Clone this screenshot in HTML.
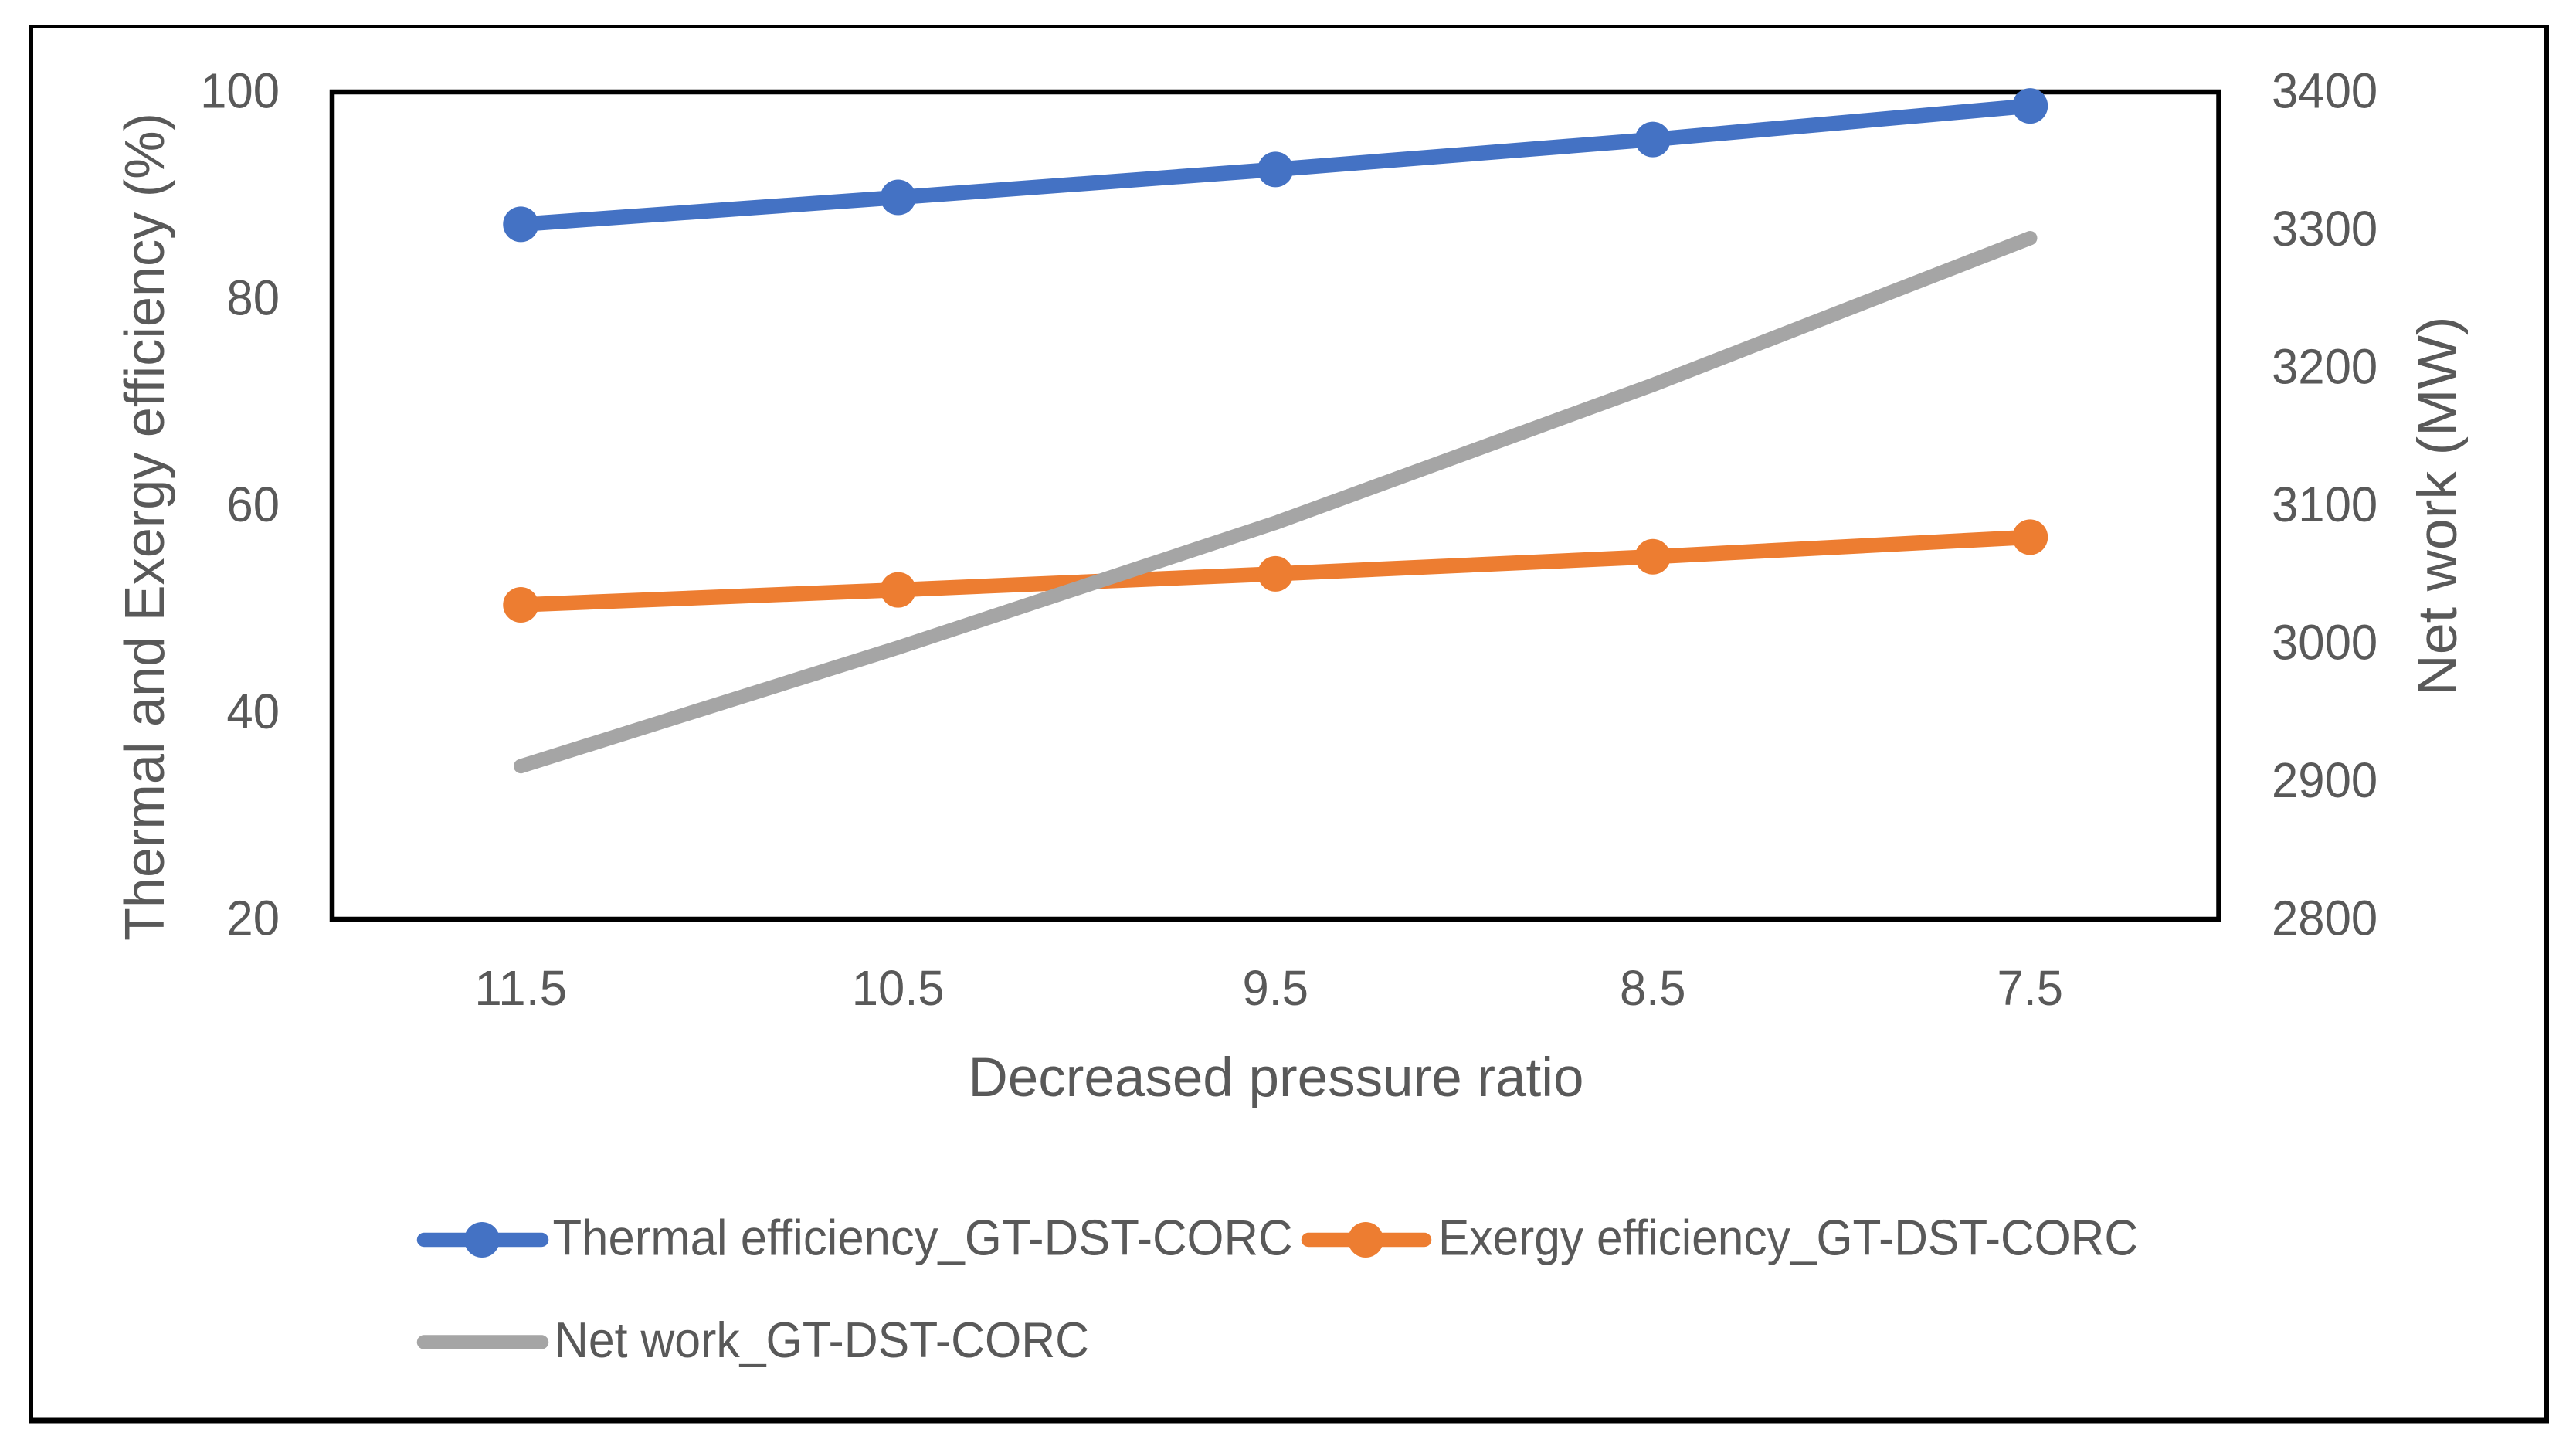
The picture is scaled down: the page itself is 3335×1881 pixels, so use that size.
<!DOCTYPE html>
<html lang="en">
<head>
<meta charset="utf-8">
<title>Efficiency and net work vs decreased pressure ratio</title>
<style>
  html, body { margin: 0; padding: 0; background: #fff; }
  svg { display: block; }
  text { font-family: "Liberation Sans", sans-serif; fill: #595959; }
</style>
</head>
<body>
<svg id="chart" xmlns="http://www.w3.org/2000/svg" width="3335" height="1881" viewBox="0 0 3335 1881">
  <rect x="0" y="0" width="3335" height="1881" fill="#ffffff"/>
  <g stroke="#000000" fill="none">
    <line x1="37" y1="34" x2="3300" y2="34" stroke-width="4"/>
    <line x1="40" y1="32" x2="40" y2="1842.5" stroke-width="6"/>
    <line x1="3297" y1="32" x2="3297" y2="1842.5" stroke-width="6"/>
    <line x1="37" y1="1839" x2="3300" y2="1839" stroke-width="7"/>
  </g>
  <rect x="430" y="119" width="2442.5" height="1071" fill="none" stroke="#000000" stroke-width="6.5"/>
  <g id="ticks"></g>
  <g id="series"></g>

  <text x="1652" y="1419" font-size="71" text-anchor="middle" textLength="797" lengthAdjust="spacingAndGlyphs">Decreased pressure ratio</text>
  <text transform="translate(212 1218) rotate(-90)" x="0" y="0" font-size="72" textLength="1072" lengthAdjust="spacingAndGlyphs">Thermal and Exergy efficiency (%)</text>
  <text transform="translate(3180 900.5) rotate(-90)" x="0" y="0" font-size="71" textLength="491" lengthAdjust="spacingAndGlyphs">Net work (MW)</text>

  <g>
    <g>
      <line x1="549" y1="1605" x2="701" y2="1605" stroke="#4472C4" stroke-width="18.5" stroke-linecap="round"/>
      <circle cx="624" cy="1605" r="23" fill="#4472C4"/>
      <text x="715.5" y="1624.5" font-size="65" textLength="958" lengthAdjust="spacingAndGlyphs">Thermal efficiency_GT-DST-CORC</text>
    </g>
    <g>
      <line x1="1694" y1="1605" x2="1844" y2="1605" stroke="#ED7D31" stroke-width="18.5" stroke-linecap="round"/>
      <circle cx="1768" cy="1605" r="23" fill="#ED7D31"/>
      <text x="1862" y="1624.5" font-size="65" textLength="906" lengthAdjust="spacingAndGlyphs">Exergy efficiency_GT-DST-CORC</text>
    </g>
    <g>
      <line x1="549" y1="1737.5" x2="701" y2="1737.5" stroke="#A5A5A5" stroke-width="18.5" stroke-linecap="round"/>
      <text x="718" y="1757" font-size="65" textLength="692" lengthAdjust="spacingAndGlyphs">Net work_GT-DST-CORC</text>
    </g>
  </g>
</svg>
<script>
const categories = ['11.5', '10.5', '9.5', '8.5', '7.5'];
const thermalEfficiency = [87.2, 89.8, 92.5, 95.4, 98.65];
const exergyEfficiency = [50.4, 51.85, 53.4, 55.05, 56.95];
const netWork = [2911, 2997, 3087.5, 3187.5, 3294];
const leftTicks = [20, 40, 60, 80, 100];
const rightTicks = [2800, 2900, 3000, 3100, 3200, 3300, 3400];

const SVG_NS = 'http://www.w3.org/2000/svg';
const plotLeft = 430, plotRight = 2872.5, plotTop = 119, plotBottom = 1190;
const leftMin = 20, leftMax = 100, rightMin = 2800, rightMax = 3400;

function xAxis(i) {
  return plotLeft + (plotRight - plotLeft) * (i + 0.5) / categories.length;
}
function yLeft(v) {
  return plotBottom - (v - leftMin) / (leftMax - leftMin) * (plotBottom - plotTop);
}
function yRight(v) {
  return plotBottom - (v - rightMin) / (rightMax - rightMin) * (plotBottom - plotTop);
}
function make(tag, attrs) {
  const el = document.createElementNS(SVG_NS, tag);
  for (const k in attrs) el.setAttribute(k, attrs[k]);
  return el;
}
function labelWidth(s) {
  let w = 0;
  for (const ch of String(s)) w += ch === '.' ? 17 : 34.3;
  return w;
}

const tickGroup = document.getElementById('ticks');
leftTicks.forEach(function (t) {
  const el = make('text', { x: 362, y: yLeft(t) + 20.5, 'font-size': 64, 'text-anchor': 'end', textLength: labelWidth(t), lengthAdjust: 'spacingAndGlyphs' });
  
  
  el.textContent = t;
  tickGroup.appendChild(el);
});
rightTicks.forEach(function (t) {
  const el = make('text', { x: 2941, y: yRight(t) + 20.5, 'font-size': 64, 'text-anchor': 'start', textLength: labelWidth(t), lengthAdjust: 'spacingAndGlyphs' });
  
  
  el.textContent = t;
  tickGroup.appendChild(el);
});
categories.forEach(function (c, i) {
  const el = make('text', { x: xAxis(i), y: 1301, 'font-size': 64, 'text-anchor': 'middle', textLength: labelWidth(c), lengthAdjust: 'spacingAndGlyphs' });
  
  
  el.textContent = c;
  tickGroup.appendChild(el);
});

const seriesGroup = document.getElementById('series');
function drawLine(values, yFn, color, width, name) {
  const pts = values.map(function (v, i) { return xAxis(i) + ',' + yFn(v); }).join(' ');
  const line = make('polyline', { points: pts, fill: 'none', stroke: color, 'stroke-width': width, 'stroke-linecap': 'round', 'stroke-linejoin': 'round' });
  
  
  seriesGroup.appendChild(line);
}
function drawMarkers(values, yFn, color, name) {
  values.forEach(function (v, i) {
    const dot = make('circle', { cx: xAxis(i), cy: yFn(v), r: 23, fill: color });
    
    
    seriesGroup.appendChild(dot);
  });
}
drawLine(thermalEfficiency, yLeft, '#4472C4', 19.5, 'thermal-efficiency');
drawMarkers(thermalEfficiency, yLeft, '#4472C4', 'thermal-efficiency');
drawLine(exergyEfficiency, yLeft, '#ED7D31', 19.5, 'exergy-efficiency');
drawMarkers(exergyEfficiency, yLeft, '#ED7D31', 'exergy-efficiency');
drawLine(netWork, yRight, '#A5A5A5', 18.5, 'net-work');
</script>
</body>
</html>
